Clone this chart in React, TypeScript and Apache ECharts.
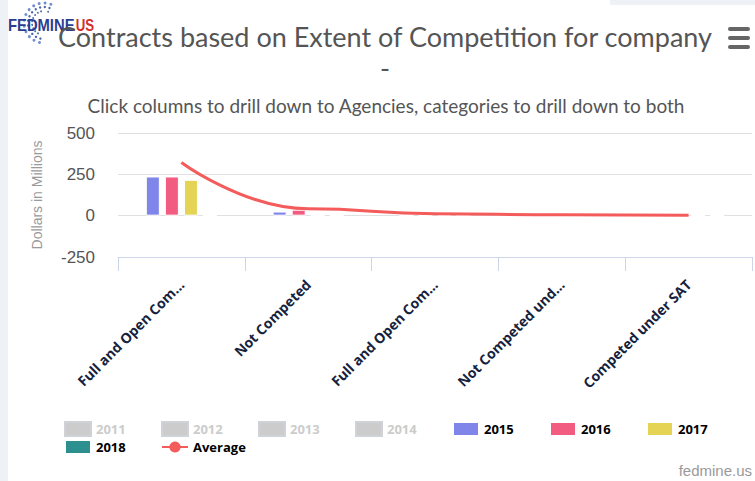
import React, { useEffect, useRef } from "react";
import * as echarts from "echarts";

const categories = [
  "Full and Open Com...",
  "Not Competed",
  "Full and Open Com...",
  "Not Competed und...",
  "Competed under SAT",
];
const years = ["2011", "2012", "2013", "2014", "2015", "2016", "2017", "2018"];
const hiddenYears = ["2011", "2012", "2013", "2014"];
const yearColors = ["#7cb5ec", "#434348", "#90ed7d", "#f7a35c", "#8085e9", "#f15c80", "#e4d354", "#2b908f"];
const values2011 = [0, 0, 0, 0, 0];
const values2012 = [0, 0, 0, 0, 0];
const values2013 = [0, 0, 0, 0, 0];
const values2014 = [0, 0, 0, 0, 0];
const values2015 = [237, 25, 2, 1, 0];
const values2016 = [237, 36, 3, 1, 0];
const values2017 = [217, 0, 5, 4, 1];
const values2018 = [0, 0, 0, 0, 0];
const averageValues = [322, 42, 12, 5, 3];
const yearValues = [values2011, values2012, values2013, values2014, values2015, values2016, values2017, values2018];
const yTicks = { min: -250, max: 500, interval: 250 };

export default function App() {
  const ref = useRef<HTMLDivElement>(null);
  useEffect(() => {
    if (!ref.current) return;
    const chart = echarts.init(ref.current, null, { renderer: "svg" });
    const arcDots: any[] = [];
    for (let ring = 0; ring < 3; ring++) {
      for (let i = 0; i < 12; i++) {
        const ang = (-70 - i * 17) * Math.PI / 180;
        const r = 20 - ring * 4;
        arcDots.push({
          type: "circle",
          shape: { cx: 44 + r * Math.cos(ang), cy: 23 + r * Math.sin(ang), r: 1.5 - ring * 0.3 },
          style: { fill: ring === 0 ? "#5a7cc4" : "#2c4a9a", opacity: 0.85 },
        });
      }
    }
    const selected: Record<string, boolean> = {};
    years.forEach((y) => (selected[y] = !hiddenYears.includes(y)));
    selected["Average"] = true;

    chart.setOption({
      animation: false,
      backgroundColor: "#ffffff",
      title: [
        {
          text: "Contracts based on Extent of Competition for company\n-",
          left: 385,
          top: 21,
          padding: 0,
          textAlign: "center",
          textStyle: { fontFamily: "Lato", fontSize: 27, fontWeight: "normal", color: "#555555", lineHeight: 31 },
        },
        {
          text: "Click columns to drill down to Agencies, categories to drill down to both",
          left: 386,
          top: 94,
          padding: 0,
          textAlign: "center",
          textStyle: { fontFamily: "Lato", fontSize: 19, fontWeight: "normal", color: "#555555", lineHeight: 22 },
        },
      ],
      legend: {
        left: 64,
        top: 421,
        width: 690,
        padding: 0,
        itemWidth: 26,
        itemHeight: 14,
        itemGap: 2,
        inactiveColor: "#cccccc",
        selected,
        data: [...years.map((y) => ({ name: y, icon: "rect" })), "Average"],
        textStyle: { fontFamily: "Open Sans", fontSize: 13, fontWeight: "bold", color: "#000000", width: 63, lineHeight: 12 },
      },
      grid: { left: 118, right: 3, top: 133, bottom: 224 },
      xAxis: {
        type: "category",
        data: categories,
        axisLine: { onZero: false, lineStyle: { color: "#ccd6eb" } },
        axisTick: { show: true, length: 14, lineStyle: { color: "#ccd6eb" } },
        axisLabel: {
          interval: 0,
          rotate: 45,
          margin: 25,
          fontFamily: "Open Sans",
          fontSize: 14,
          fontWeight: "bold",
          color: "#15223d",
        },
      },
      yAxis: {
        type: "value",
        min: yTicks.min,
        max: yTicks.max,
        interval: yTicks.interval,
        name: "Dollars in Millions",
        nameLocation: "middle",
        nameRotate: 90,
        nameGap: 74,
        nameTextStyle: { fontFamily: "Liberation Sans", fontSize: 14, color: "#9a9a9a" },
        axisLine: { show: false },
        axisTick: { show: false },
        axisLabel: { fontFamily: "Liberation Sans", fontSize: 17, color: "#555555", margin: 23 },
        splitLine: { lineStyle: { color: "#e0e0e0" } },
      },
      series: [
        ...years.map((y, i) => ({
          name: y,
          type: "bar",
          data: yearValues[i],
          barWidth: 14,
          barGap: "36%",
          itemStyle: { color: yearColors[i], borderColor: "#ffffff", borderWidth: 1 },
        })),
        {
          name: "Average",
          type: "line",
          data: averageValues,
          smooth: true,
          smoothMonotone: "x",
          symbol: "circle",
          symbolSize: 8,
          showSymbol: false,
          itemStyle: { color: "#f45b5b" },
          lineStyle: { color: "#f45b5b", width: 3 },
          z: 5,
        },
      ],
      graphic: [
        { type: "rect", shape: { x: 0, y: 0, width: 8, height: 481 }, style: { fill: "#eef2f7" } },
        { type: "rect", shape: { x: 610, y: 0, width: 145, height: 5 }, style: { fill: "#eef2f7" } },
        ...arcDots,
        {
          type: "text",
          x: 8,
          y: 25,
          scaleX: 0.87,
          style: { text: "FEDMINE", fontFamily: "Liberation Sans", fontWeight: "bold", fontSize: 17, fill: "#2b3d8f", verticalAlign: "middle" },
        },
        {
          type: "text",
          x: 72,
          y: 25,
          scaleX: 0.78,
          style: { text: ".US", fontFamily: "Liberation Sans", fontWeight: "bold", fontSize: 17, fill: "#d32f2f", verticalAlign: "middle" },
        },
        { type: "rect", shape: { x: 728, y: 27, width: 22, height: 4, r: 2 }, style: { fill: "#666666" } },
        { type: "rect", shape: { x: 728, y: 36, width: 22, height: 4, r: 2 }, style: { fill: "#666666" } },
        { type: "rect", shape: { x: 728, y: 45, width: 22, height: 4, r: 2 }, style: { fill: "#666666" } },
        {
          type: "text",
          x: 752,
          y: 470,
          style: { text: "fedmine.us", fontFamily: "Liberation Sans", fontSize: 15, fill: "#999999", align: "right", verticalAlign: "middle" },
        },
      ],
    });
    return () => chart.dispose();
  }, []);
  return (
    <div style={{ position: "absolute", left: 0, top: 0, width: 755, height: 481 }}>
      <div ref={ref} style={{ width: 755, height: 481 }} />
    </div>
  );
}
